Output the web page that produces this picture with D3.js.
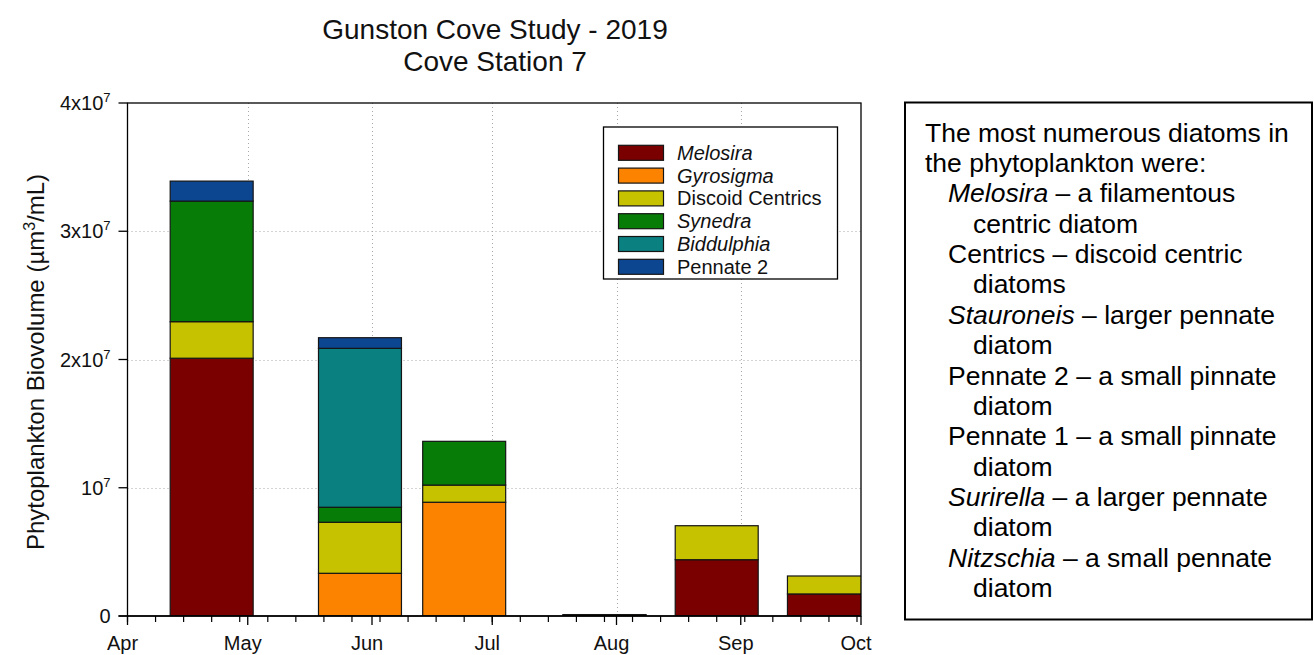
<!DOCTYPE html>
<html>
<head>
<meta charset="utf-8">
<script src="https://cdn.jsdelivr.net/npm/d3@7"></script>
<style>
  html, body { margin: 0; padding: 0; background: #fff; }
  svg { display: block; font-family: "Liberation Sans", Arial, sans-serif; }
</style>
</head>
<body>
<svg id="chart" width="1314" height="655"></svg>
<script>
// Sampling dates (2019) and stacked biovolume per taxon, µm³/mL
const sampleDates = ["2019-04-22", "2019-05-29", "2019-06-24", "2019-07-29", "2019-08-26", "2019-09-23"];
const taxa = ["Melosira", "Gyrosigma", "Discoid Centrics", "Synedra", "Biddulphia", "Pennate 2"];
const italicTaxa = ["Melosira", "Gyrosigma", "Synedra", "Biddulphia"];
const melosira   = [2.01e7, 0,       0,       0.08e6, 4.39e6, 1.72e6];
const gyrosigma  = [0,      3.33e6,  8.87e6,  0,      0,      0];
const discoid    = [2.85e6, 3.98e6,  1.34e6,  0.03e6, 2.65e6, 1.40e6];
const synedra    = [9.40e6, 1.17e6,  3.41e6,  0,      0,      0];
const biddulphia = [0,      1.239e7, 0,       0,      0,      0];
const pennate2   = [1.56e6, 0.83e6,  0,       0,      0,      0];
const taxonColors = ["#7a0000", "#fb8300", "#c6c200", "#077d07", "#0b8080", "#0d4690"];

const yTickValues = [0, 1e7, 2e7, 3e7, 4e7];
const yTickLabels = [["0", ""], ["10", "7"], ["2x10", "7"], ["3x10", "7"], ["4x10", "7"]];
const monthLabels = ["Apr", "May", "Jun", "Jul", "Aug", "Sep", "Oct"];

const noteLines = [
  { indent: 0, parts: [["The most numerous diatoms in", false]] },
  { indent: 0, parts: [["the phytoplankton were:", false]] },
  { indent: 1, parts: [["Melosira", true], [" \u2013 a filamentous", false]] },
  { indent: 2, parts: [["centric diatom", false]] },
  { indent: 1, parts: [["Centrics \u2013 discoid centric", false]] },
  { indent: 2, parts: [["diatoms", false]] },
  { indent: 1, parts: [["Stauroneis", true], [" \u2013 larger pennate", false]] },
  { indent: 2, parts: [["diatom", false]] },
  { indent: 1, parts: [["Pennate 2 \u2013 a small pinnate", false]] },
  { indent: 2, parts: [["diatom", false]] },
  { indent: 1, parts: [["Pennate 1 \u2013 a small pinnate", false]] },
  { indent: 2, parts: [["diatom", false]] },
  { indent: 1, parts: [["Surirella", true], [" \u2013 a larger pennate", false]] },
  { indent: 2, parts: [["diatom", false]] },
  { indent: 1, parts: [["Nitzschia", true], [" \u2013 a small pennate", false]] },
  { indent: 2, parts: [["diatom", false]] }
];

const svg = d3.select("#chart");
const parse = d3.timeParse("%Y-%m-%d");
const plot = { left: 127.5, right: 861, top: 103, bottom: 616 };

const x = d3.scaleTime()
  .domain([parse("2019-04-01"), parse("2019-10-01")])
  .range([plot.left, plot.right]);
const y = d3.scaleLinear().domain([0, 4e7]).range([plot.bottom, plot.top]);

// Stack the series
const seriesArrays = [melosira, gyrosigma, discoid, synedra, biddulphia, pennate2];
const rows = sampleDates.map((d, i) => {
  const r = { date: parse(d) };
  taxa.forEach((t, k) => { r[t] = seriesArrays[k][i]; });
  return r;
});
const stacked = d3.stack().keys(taxa)(rows);

svg.append("defs").append("clipPath").attr("id", "plotClip")
  .append("rect")
  .attr("x", plot.left).attr("y", plot.top)
  .attr("width", plot.right - plot.left).attr("height", plot.bottom - plot.top);

// Dotted grid
const grid = svg.append("g").attr("stroke", "#a8a8a8").attr("stroke-width", 1).attr("stroke-dasharray", "1,3");
yTickValues.slice(1, 4).forEach(v => {
  grid.append("line").attr("x1", plot.left).attr("x2", plot.right)
    .attr("y1", Math.round(y(v)) + 0.5).attr("y2", Math.round(y(v)) + 0.5);
});
const months = d3.timeMonth.range(parse("2019-04-01"), parse("2019-10-02"));
months.slice(1, 6).forEach(m => {
  grid.append("line").attr("x1", Math.round(x(m)) + 0.5).attr("x2", Math.round(x(m)) + 0.5)
    .attr("y1", plot.top).attr("y2", plot.bottom);
});

// Stacked bars, each about three weeks wide, centred on the sample date
const halfWidthMs = 10.35 * 24 * 3600 * 1000;
const bars = svg.append("g").attr("clip-path", "url(#plotClip)");
stacked.forEach((layer, k) => {
  bars.append("g").attr("fill", taxonColors[k])
    .selectAll("rect")
    .data(layer.filter(d => d[1] - d[0] > 0))
    .join("rect")
    .attr("x", d => x(new Date(+d.data.date - halfWidthMs)))
    .attr("width", d => x(new Date(+d.data.date + halfWidthMs)) - x(new Date(+d.data.date - halfWidthMs)))
    .attr("y", d => y(d[1]))
    .attr("height", d => Math.max(0.5, y(d[0]) - y(d[1])))
    .attr("stroke", "#151515")
    .attr("stroke-width", 1.2);
});

// Frame
svg.append("rect")
  .attr("x", plot.left).attr("y", plot.top)
  .attr("width", plot.right - plot.left).attr("height", plot.bottom - plot.top)
  .attr("fill", "none").attr("stroke", "#000").attr("stroke-width", 1.3);

// Y axis ticks and labels
const yAxis = svg.append("g");
yTickValues.forEach((v, i) => {
  const yy = y(v);
  yAxis.append("line").attr("x1", plot.left - 9).attr("x2", plot.left)
    .attr("y1", yy).attr("y2", yy).attr("stroke", "#000").attr("stroke-width", 1.3);
  const t = yAxis.append("text")
    .attr("x", plot.left - 17).attr("y", yy + 7)
    .attr("text-anchor", "end").attr("font-size", 20).attr("fill", "#111");
  t.append("tspan").text(yTickLabels[i][0]);
  if (yTickLabels[i][1]) {
    t.append("tspan").attr("dy", -8).attr("font-size", 13).text(yTickLabels[i][1]);
  }
});

// X axis: months as major ticks, Mondays as minor ticks
const xAxis = svg.append("g");
const mondays = d3.timeMonday.range(parse("2019-04-01"), parse("2019-10-02"));
mondays.forEach(m => {
  xAxis.append("line").attr("x1", x(m)).attr("x2", x(m))
    .attr("y1", plot.bottom).attr("y2", plot.bottom + 6)
    .attr("stroke", "#000").attr("stroke-width", 1.2);
});
months.forEach((m, i) => {
  xAxis.append("line").attr("x1", x(m)).attr("x2", x(m))
    .attr("y1", plot.bottom).attr("y2", plot.bottom + 9)
    .attr("stroke", "#000").attr("stroke-width", 1.3);
  xAxis.append("text").attr("x", x(m) - 5).attr("y", plot.bottom + 34)
    .attr("text-anchor", "middle").attr("font-size", 20).attr("fill", "#111")
    .text(monthLabels[i]);
});
xAxis.append("line").attr("x1", plot.left - 9).attr("x2", plot.right)
  .attr("y1", plot.bottom).attr("y2", plot.bottom).attr("stroke", "#000").attr("stroke-width", 1.3);

// Y axis title
const yTitle = svg.append("text")
  .attr("transform", "translate(44,362) rotate(-90)")
  .attr("text-anchor", "middle").attr("font-size", 24).attr("fill", "#111");
yTitle.append("tspan").text("Phytoplankton Biovolume (\u00b5m");
yTitle.append("tspan").attr("dy", -9).attr("font-size", 16).text("3");
yTitle.append("tspan").attr("dy", 9).text("/mL)");

// Title
svg.append("text").attr("x", 495).attr("y", 39).attr("text-anchor", "middle")
  .attr("font-size", 28).attr("fill", "#111").text("Gunston Cove Study - 2019");
svg.append("text").attr("x", 495).attr("y", 71).attr("text-anchor", "middle")
  .attr("font-size", 28).attr("fill", "#111").text("Cove Station 7");

// Legend
const legend = svg.append("g");
legend.append("rect").attr("x", 603.5).attr("y", 127).attr("width", 234).attr("height", 152)
  .attr("fill", "#fff").attr("stroke", "#000").attr("stroke-width", 1.3);
taxa.forEach((t, k) => {
  const cy = 152.8 + k * 22.8;
  legend.append("rect").attr("x", 618.5).attr("y", cy - 7.5).attr("width", 45).attr("height", 15)
    .attr("fill", taxonColors[k]).attr("stroke", "#151515").attr("stroke-width", 1.2);
  legend.append("text").attr("x", 677).attr("y", cy + 7)
    .attr("font-size", 20).attr("fill", "#111")
    .attr("font-style", italicTaxa.includes(t) ? "italic" : "normal")
    .text(t);
});

// Notes box
const notes = svg.append("g");
notes.append("rect").attr("x", 905).attr("y", 102.5).attr("width", 407).attr("height", 517)
  .attr("fill", "#fff").attr("stroke", "#000").attr("stroke-width", 2);
const indentX = [925, 948, 973];
noteLines.forEach((line, i) => {
  const t = notes.append("text").attr("x", indentX[line.indent]).attr("y", 141.7 + i * 30.35)
    .attr("font-size", 26.5).attr("fill", "#000");
  line.parts.forEach(([s, it]) => {
    t.append("tspan").attr("font-style", it ? "italic" : "normal").text(s);
  });
});
</script>
</body>
</html>
